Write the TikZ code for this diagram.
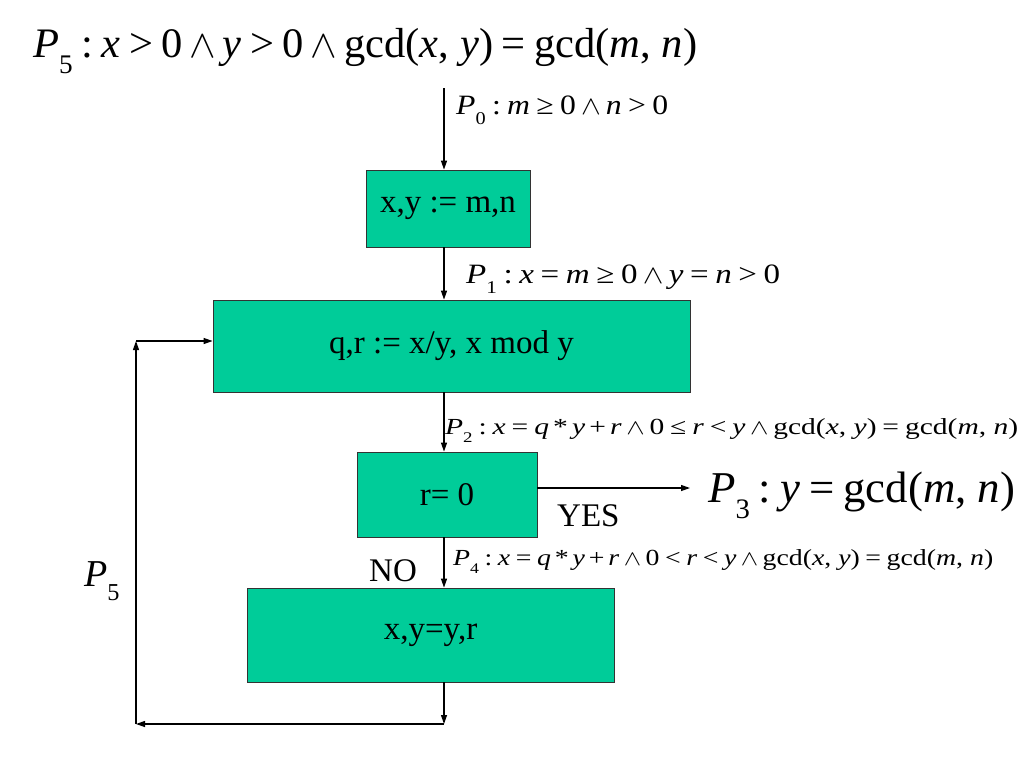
\documentclass[tikz,border=0pt]{standalone}
\usepackage{fontspec}
\setmainfont{Liberation Serif}
\usetikzlibrary{arrows.meta}
\definecolor{boxgreen}{HTML}{00CC99}
\newcommand\mi[1]{\textit{#1}}
\newcommand\lowidx[1]{\raisebox{-0.38em}{\scalebox{0.64}{#1}}}
\newcommand\AND{\hspace{0.16em}\resizebox{!}{0.52em}{$\wedge$}\hspace{0.16em}}
\newcommand\rel[1]{\hspace{0.2em}#1\hspace{0.2em}}
\newcommand\bin[1]{\hspace{0.14em}#1\hspace{0.14em}}
\newcommand\fs[1]{\fontsize{#1}{#1}\selectfont}
\newcommand\fitw[2]{\resizebox{#1}{\height}{#2}}
\begin{document}
\begin{tikzpicture}[x=1pt,y=-1pt,
  proc/.style={draw=black!80,line width=0.8pt,fill=boxgreen,inner sep=0pt,font=\fs{33}},
  lab/.style={inner sep=0pt,anchor=base west},
  conn/.style={line width=1.2pt,-{Triangle[length=9pt,width=6pt]}}]
\useasboundingbox (0,0) rectangle (1024,768);
\node[proc,minimum width=164pt,minimum height=77pt] (b1) at (448,208.5) {x,y := m,n};
\node[proc,minimum width=477pt,minimum height=92pt] (b2) at (451.5,346) {q,r := x/y, x mod y};
\node[proc,minimum width=180pt,minimum height=85pt] (b3) at (447,494.5) {r= 0};
\node[proc,minimum width=367pt,minimum height=94pt] (b4) at (430.5,635) {x,y=y,r};
\coordinate (top) at (444,88);
\coordinate (bl) at (444,724);
\coordinate (lb) at (136,724);
\coordinate (lt) at (136,341);
\coordinate (yesend) at (690,488);
\draw[conn] (top) -- (top |- b1.north);
\draw[conn] (b1.south -| top) -- (b2.north -| top);
\draw[conn] (b2.south -| top) -- (b3.north -| top);
\draw[conn] (b3.south -| top) -- (b4.north -| top);
\draw[conn] (b4.south -| top) -- (bl);
\draw[conn] (bl) -- (lb);
\draw[conn] (lb) -- (lt);
\draw[conn] (lt) -- (lt -| b2.west);
\draw[conn] (b3.east |- yesend) -- (yesend);
% labels
\node[lab,font=\fs{42}] (p5top) at (33,58) {\fitw{664pt}{\mi{P}\lowidx{5}\rel{:}\mi{x}\rel{>}0\AND\mi{y}\rel{>}0\AND gcd(\mi{x}, \mi{y})\rel{=}gcd(\mi{m}, \mi{n})}};
\node[lab,font=\fs{28}] (p0) at (456,114) {\fitw{212pt}{\mi{P}\lowidx{0}\rel{:}\mi{m}\rel{≥}0\AND\mi{n}\rel{>}0}};
\node[lab,font=\fs{28}] (p1) at (466,283) {\fitw{314pt}{\mi{P}\lowidx{1}\rel{:}\mi{x}\rel{=}\mi{m}\rel{≥}0\AND\mi{y}\rel{=}\mi{n}\rel{>}0}};
\node[lab,font=\fs{23}] (p2) at (445,434) {\fitw{573pt}{\mi{P}\lowidx{2}\rel{:}\mi{x}\rel{=}\mi{q}\bin{*}\mi{y}\bin{+}\mi{r}\AND 0\rel{≤}\mi{r}\rel{<}\mi{y}\AND gcd(\mi{x}, \mi{y})\rel{=}gcd(\mi{m}, \mi{n})}};
\node[lab,font=\fs{23}] (p4) at (453,565) {\fitw{540pt}{\mi{P}\lowidx{4}\rel{:}\mi{x}\rel{=}\mi{q}\bin{*}\mi{y}\bin{+}\mi{r}\AND 0\rel{<}\mi{r}\rel{<}\mi{y}\AND gcd(\mi{x}, \mi{y})\rel{=}gcd(\mi{m}, \mi{n})}};
\node[lab,font=\fs{44}] (p3) at (708,502) {\fitw{307pt}{\mi{P}\lowidx{3}\rel{:}\mi{y}\rel{=}gcd(\mi{m}, \mi{n})}};
\node[lab,font=\fs{33}] (yes) at (557,526) {YES};
\node[lab,font=\fs{33}] (no) at (369,581) {NO};
\node[lab,font=\fs{38}] (p5l) at (84,586) {\mi{P}\lowidx{5}};
\end{tikzpicture}
\end{document}
